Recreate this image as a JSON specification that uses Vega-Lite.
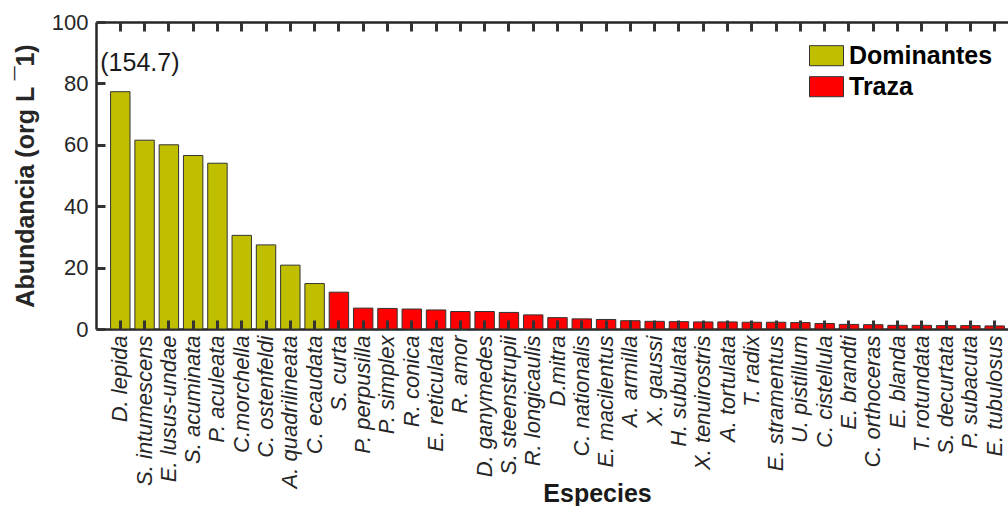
{
  "$schema": "https://vega.github.io/schema/vega-lite/v6.json",
  "autosize": {"type": "none"},
  "padding": {"left": 96, "top": 22, "right": 0, "bottom": 177},
  "width": 912,
  "height": 307,
  "background": "white",
  "config": {"view": {"stroke": null}, "font": "Liberation Sans"},
  "datasets": {
    "especies": [
      {"especie": "D. lepida", "abundancia": 77.3, "grupo": "Dominantes"},
      {"especie": "S. intumescens", "abundancia": 61.5, "grupo": "Dominantes"},
      {"especie": "E. lusus-undae", "abundancia": 60.0, "grupo": "Dominantes"},
      {"especie": "S. acuminata", "abundancia": 56.5, "grupo": "Dominantes"},
      {"especie": "P. aculeata", "abundancia": 54.0, "grupo": "Dominantes"},
      {"especie": "C.morchella", "abundancia": 30.5, "grupo": "Dominantes"},
      {"especie": "C. ostenfeldi", "abundancia": 27.4, "grupo": "Dominantes"},
      {"especie": "A. quadrilineata", "abundancia": 20.8, "grupo": "Dominantes"},
      {"especie": "C. ecaudata", "abundancia": 14.8, "grupo": "Dominantes"},
      {"especie": "S. curta", "abundancia": 12.0, "grupo": "Traza"},
      {"especie": "P. perpusilla", "abundancia": 6.8, "grupo": "Traza"},
      {"especie": "P. simplex", "abundancia": 6.7, "grupo": "Traza"},
      {"especie": "R. conica", "abundancia": 6.5, "grupo": "Traza"},
      {"especie": "E. reticulata", "abundancia": 6.2, "grupo": "Traza"},
      {"especie": "R. amor", "abundancia": 5.7, "grupo": "Traza"},
      {"especie": "D. ganymedes", "abundancia": 5.7, "grupo": "Traza"},
      {"especie": "S. steenstrupii", "abundancia": 5.4, "grupo": "Traza"},
      {"especie": "R. longicaulis", "abundancia": 4.6, "grupo": "Traza"},
      {"especie": "D.mitra", "abundancia": 3.7, "grupo": "Traza"},
      {"especie": "C. nationalis", "abundancia": 3.3, "grupo": "Traza"},
      {"especie": "E. macilentus", "abundancia": 3.1, "grupo": "Traza"},
      {"especie": "A. armilla", "abundancia": 2.7, "grupo": "Traza"},
      {"especie": "X. gaussi", "abundancia": 2.5, "grupo": "Traza"},
      {"especie": "H. subulata", "abundancia": 2.4, "grupo": "Traza"},
      {"especie": "X. tenuirostris", "abundancia": 2.3, "grupo": "Traza"},
      {"especie": "A. tortulata", "abundancia": 2.3, "grupo": "Traza"},
      {"especie": "T. radix", "abundancia": 2.2, "grupo": "Traza"},
      {"especie": "E. stramentus", "abundancia": 2.2, "grupo": "Traza"},
      {"especie": "U. pistillum", "abundancia": 2.1, "grupo": "Traza"},
      {"especie": "C. cistellula", "abundancia": 1.8, "grupo": "Traza"},
      {"especie": "E. brandti", "abundancia": 1.5, "grupo": "Traza"},
      {"especie": "C. orthoceras", "abundancia": 1.4, "grupo": "Traza"},
      {"especie": "E. blanda", "abundancia": 1.2, "grupo": "Traza"},
      {"especie": "T. rotundata", "abundancia": 1.2, "grupo": "Traza"},
      {"especie": "S. decurtata", "abundancia": 1.1, "grupo": "Traza"},
      {"especie": "P. subacuta", "abundancia": 1.1, "grupo": "Traza"},
      {"especie": "E. tubulosus", "abundancia": 1.0, "grupo": "Traza"}
    ],
    "nota": [
      {"especie": "D. lepida", "y": 84.2, "texto": "(154.7)"}
    ]
  },
  "layer": [
    {
      "data": {"name": "especies"},
      "mark": {"type": "bar", "stroke": "#333333", "strokeWidth": 1},
      "encoding": {
        "x": {
          "field": "especie", "type": "nominal", "sort": null,
          "scale": {"range": [0, 923], "paddingInner": 0.2, "paddingOuter": 0.6},
          "axis": {
            "orient": "bottom", "title": "Especies", "ticks": false, "tickSize": 0,
            "labelAngle": -90, "labelFontSize": 22, "labelFontStyle": "italic",
            "labelColor": "#262626", "labelPadding": 6, "labelOverlap": false, "labelLimit": 0,
            "domainWidth": 2.5, "domainColor": "#262626",
            "titleFontSize": 25, "titleFontWeight": "bold", "titleColor": "#1a1a1a",
            "titleX": 501, "titleY": 172.7, "titleBaseline": "alphabetic"
          }
        },
        "y": {
          "field": "abundancia", "type": "quantitative",
          "scale": {"domain": [0, 100], "nice": false},
          "axis": {
            "orient": "left", "tickCount": 5, "grid": false, "ticks": false, "tickSize": 0,
            "title": "Abundancia (org L ¯1)",
            "labelFontSize": 22, "labelColor": "#262626", "labelPadding": 8,
            "domainWidth": 2.5, "domainColor": "#262626",
            "titleFontSize": 25, "titleFontWeight": "bold", "titleColor": "#262626",
            "titleX": -63, "titleBaseline": "alphabetic"
          }
        },
        "color": {
          "field": "grupo", "type": "nominal",
          "scale": {"domain": ["Dominantes", "Traza"], "range": ["#BFBF00", "#FF0000"]},
          "legend": {
            "orient": "none", "legendX": 713, "legendY": 16.2, "title": null,
            "symbolType": "M-1,-0.59H1V0.59H-1Z", "symbolSize": 1156,
            "symbolStrokeColor": "#333333", "symbolStrokeWidth": 1, "symbolOpacity": 1,
            "labelFontSize": 25, "labelFontWeight": "bold", "labelColor": "#000000",
            "labelOffset": 5, "rowPadding": -3, "padding": 0
          }
        }
      }
    },
    {
      "data": {"name": "nota"},
      "mark": {"type": "text", "align": "left", "baseline": "alphabetic", "dx": -20, "fontSize": 25, "color": "#1a1a1a"},
      "encoding": {
        "x": {
          "field": "especie", "type": "nominal", "sort": null,
          "axis": {
            "orient": "top", "title": null, "labels": false, "ticks": false,
            "domainWidth": 2.5, "domainColor": "#262626"
          }
        },
        "y": {
          "field": "y", "type": "quantitative",
          "axis": {
            "orient": "left", "title": null, "labels": false, "domain": false, "grid": false, "zindex": 1,
            "tickCount": 5, "offset": -9, "tickSize": 9, "tickColor": "#333333", "tickWidth": 3
          }
        },
        "text": {"field": "texto"}
      }
    },
    {
      "data": {"name": "especies"},
      "mark": {"type": "bar", "opacity": 0},
      "encoding": {
        "x": {
          "field": "especie", "type": "nominal", "sort": null,
          "axis": {"orient": "top", "title": null, "offset": -9, "tickSize": 9, "tickColor": "#333333", "tickWidth": 3, "labels": false, "domain": false, "zindex": 1}
        }
      }
    },
    {
      "data": {"name": "especies"},
      "mark": {"type": "bar", "opacity": 0},
      "encoding": {
        "x": {
          "field": "especie", "type": "nominal", "sort": null,
          "axis": {"orient": "bottom", "title": null, "offset": -9, "tickSize": 9, "tickColor": "#333333", "tickWidth": 3, "labels": false, "domain": false, "zindex": 1}
        }
      }
    }
  ],
  "resolve": {"axis": {"x": "independent", "y": "independent"}}
}
